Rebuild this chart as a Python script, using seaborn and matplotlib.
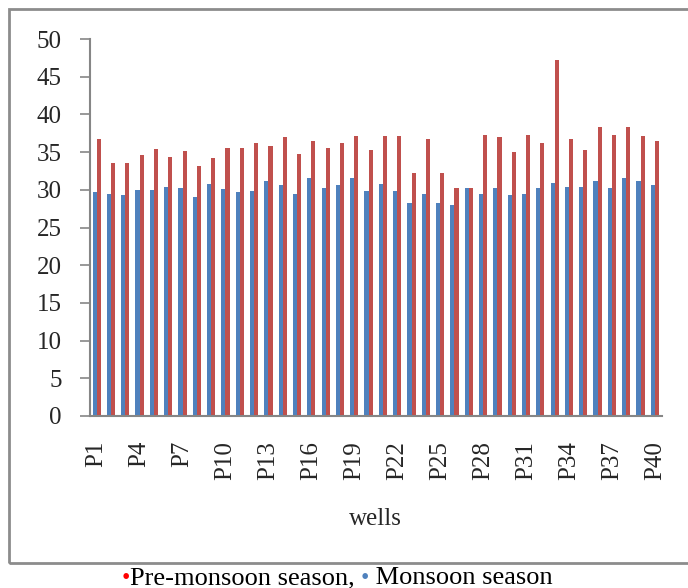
import numpy as np
import pandas as pd
import seaborn as sns
import matplotlib.pyplot as plt
from matplotlib.patches import Rectangle
from matplotlib.offsetbox import TextArea, HPacker, AnchoredOffsetbox

wells = [f"P{i}" for i in range(1, 41)]

monsoon = [29.7, 29.4, 29.3, 30.0, 30.0, 30.4, 30.3, 29.1, 30.8, 30.1,
           29.7, 29.9, 31.2, 30.6, 29.4, 31.6, 30.2, 30.6, 31.6, 29.9,
           30.8, 29.8, 28.3, 29.4, 28.2, 28.0, 30.3, 29.5, 30.2, 29.3,
           29.5, 30.2, 30.9, 30.4, 30.4, 31.2, 30.3, 31.6, 31.2, 30.6]

pre_monsoon = [36.8, 33.6, 33.6, 34.6, 35.4, 34.3, 35.1, 33.2, 34.2, 35.6,
               35.6, 36.2, 35.8, 37.0, 34.7, 36.5, 35.6, 36.2, 37.2, 35.3,
               37.2, 37.2, 32.2, 36.7, 32.2, 30.2, 30.2, 37.3, 37.0, 35.0,
               37.3, 36.2, 47.2, 36.7, 35.3, 38.3, 37.3, 38.3, 37.2, 36.5]

series_names = ["Monsoon season", "Pre-monsoon season"]
series_colors = ["#4F81BD", "#C0504D"]
bullet_colors = ["#4F81BD", "#FF0000"]
y_ticks = list(range(0, 51, 5))

df = pd.DataFrame({
    "well": wells * 2,
    "value": monsoon + pre_monsoon,
    "season": [series_names[0]] * len(wells) + [series_names[1]] * len(wells),
})

sns.set_theme(style="white")
plt.rcParams["font.family"] = ["Liberation Serif", "DejaVu Serif"]

W, H = 688, 588
fig = plt.figure(figsize=(W / 100, H / 100), dpi=100)
ax = fig.add_axes([89.5 / W, 1 - 416 / H, (662 - 89.5) / W, (416 - 39) / H])

sns.barplot(data=df, x="well", y="value", hue="season", hue_order=series_names,
            palette=series_colors, width=0.58, gap=0.0, saturation=1,
            edgecolor="none", legend=False, ax=ax)

axis_gray = "#868686"
fs = 18
ax.set_ylim(0, 50)
ax.set_xlim(-0.5, len(wells) - 0.5)
ax.set_yticks(y_ticks)
ax.set_yticklabels([str(v) for v in y_ticks], fontsize=fs)

label_pos = list(range(0, len(wells), 3))
ax.set_xticks(label_pos)
ax.set_xticklabels([wells[i] for i in label_pos], rotation=90, fontsize=fs)
ax.set_xticks(np.arange(-0.5, len(wells), 1.0), minor=True)
ax.tick_params(axis="x", which="major", length=0, pad=18)
ax.tick_params(axis="x", which="minor", length=7, width=1.2, color=axis_gray, direction="out")
ax.tick_params(axis="y", length=7, width=1.2, color=axis_gray, direction="out", left=True, pad=13)

for side in ("top", "right"):
    ax.spines[side].set_visible(False)
for side in ("left", "bottom"):
    ax.spines[side].set_color(axis_gray)
    ax.spines[side].set_linewidth(1.5)

ax.set_ylabel("")
ax.set_xlabel("wells", fontsize=fs, labelpad=20)

# frame around the chart area
fig.patches.append(Rectangle((9 / W, 1 - 563 / H), 1.0, (563 - 9) / H,
                             transform=fig.transFigure, fill=False,
                             edgecolor="#8c8c8c", linewidth=2.0))

# caption with coloured bullets
parts = [("\u2022", bullet_colors[1]), ("Pre-monsoon season, ", "black"),
         ("\u2022", bullet_colors[0]), (" Monsoon season", "black")]
boxes = [TextArea(t, textprops=dict(color=c, fontsize=19 if c == "black" else 17,
                                    family=["Liberation Serif", "DejaVu Sans"]))
         for t, c in parts]
caption = AnchoredOffsetbox(loc="center", child=HPacker(children=boxes, align="baseline", pad=0, sep=0),
                            bbox_to_anchor=(337 / W, 1 - 578 / H),
                            bbox_transform=fig.transFigure, frameon=False, pad=0, borderpad=0)
fig.add_artist(caption)

fig.savefig("out.png", dpi=100)
